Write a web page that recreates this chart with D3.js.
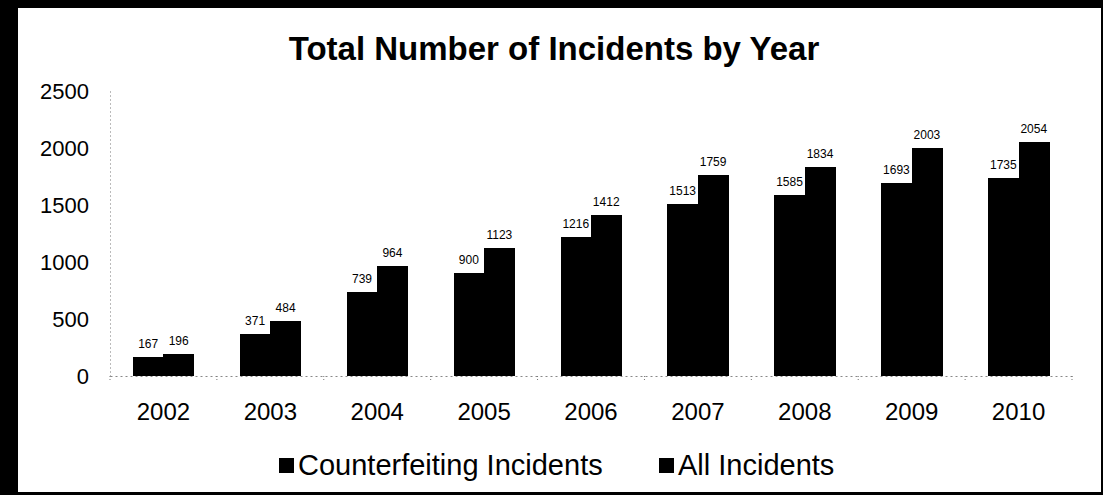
<!DOCTYPE html>
<html>
<head>
<meta charset="utf-8">
<script src="https://cdn.jsdelivr.net/npm/d3@7"></script>
<style>
  html, body { margin: 0; padding: 0; background: #fff; }
  svg { display: block; }
  svg text { font-family: "Liberation Sans", Arial, sans-serif; }
</style>
</head>
<body>
<svg id="chart" width="1103" height="495"></svg>
<script>
// chart data
const years = ["2002", "2003", "2004", "2005", "2006", "2007", "2008", "2009", "2010"];
const counterfeiting = [167, 371, 739, 900, 1216, 1513, 1585, 1693, 1735];
const allIncidents = [196, 484, 964, 1123, 1412, 1759, 1834, 2003, 2054];
const yTicks = [0, 500, 1000, 1500, 2000, 2500];
const seriesNames = ["Counterfeiting Incidents", "All Incidents"];

const svg = d3.select("#chart");
const W = 1103, H = 495;
const plot = { left: 110, right: 1072, top: 91, bottom: 376 };

// frame: heavy black left/top edge, thin right/bottom edge
svg.append("rect").attr("width", W).attr("height", H).attr("fill", "#000");
svg.append("rect")
  .attr("x", 18).attr("y", 8)
  .attr("width", 1101 - 18).attr("height", 492 - 8)
  .attr("fill", "#fff");

// title
svg.append("text")
  .attr("x", 554).attr("y", 60)
  .attr("text-anchor", "middle")
  .attr("font-size", "33px")
  .attr("font-weight", "bold")
  .attr("fill", "#000")
  .text("Total Number of Incidents by Year");

const x = d3.scaleBand()
  .domain(years)
  .range([plot.left, plot.right])
  .paddingInner(0.43)
  .paddingOuter(0.215);

const x1 = d3.scaleBand()
  .domain([0, 1])
  .range([0, x.bandwidth()]);

const y = d3.scaleLinear()
  .domain([0, 2500])
  .range([plot.bottom, plot.top]);

// y axis
const yAxis = svg.append("g")
  .attr("transform", `translate(${plot.left},0)`)
  .call(d3.axisLeft(y).tickValues(yTicks).tickFormat(d3.format("d")).tickSize(0).tickPadding(21))
  .attr("font-family", null);
yAxis.select(".domain")
  .attr("stroke", "#777")
  .attr("stroke-dasharray", "1,3");
yAxis.selectAll("text")
  .attr("font-size", "22px")
  .attr("fill", "#000");

// x axis
const xAxis = svg.append("g")
  .attr("transform", `translate(0,${plot.bottom})`)
  .call(d3.axisBottom(x).tickSize(0).tickPadding(27))
  .attr("font-family", null);
xAxis.select(".domain")
  .attr("stroke", "#888")
  .attr("stroke-dasharray", "2,3");
xAxis.selectAll("text")
  .attr("font-size", "24px")
  .attr("fill", "#000");

// small ticks at category boundaries
const step = x.step();
const bounds = d3.range(years.length + 1).map(i => plot.left + i * step);
svg.append("g").selectAll("line")
  .data(bounds)
  .join("line")
  .attr("x1", d => d).attr("x2", d => d)
  .attr("y1", plot.bottom).attr("y2", plot.bottom + 5)
  .attr("stroke", "#777")
  .attr("stroke-dasharray", "1,2");

// bars
const rows = years.map((yr, i) => ({ year: yr, values: [counterfeiting[i], allIncidents[i]] }));

const groups = svg.append("g").selectAll("g")
  .data(rows)
  .join("g")
  .attr("transform", d => `translate(${x(d.year)},0)`);

groups.selectAll("rect")
  .data(d => d.values.map((v, k) => ({ k, v })))
  .join("rect")
  .attr("x", d => x1(d.k))
  .attr("y", d => y(d.v))
  .attr("width", x1.bandwidth() + 0.5)
  .attr("height", d => y(0) - y(d.v))
  .attr("shape-rendering", "crispEdges")
  .attr("fill", "#000");

// value labels
groups.selectAll("text")
  .data(d => d.values.map((v, k) => ({ k, v })))
  .join("text")
  .attr("x", d => x1(d.k) + x1.bandwidth() / 2)
  .attr("y", d => y(d.v) - 9)
  .attr("text-anchor", "middle")
  .attr("font-size", "12px")
  .attr("fill", "#000")
  .text(d => d.v);

// legend
const legendItems = [
  { name: seriesNames[0], x: 279 },
  { name: seriesNames[1], x: 659 }
];
const legend = svg.append("g").selectAll("g")
  .data(legendItems)
  .join("g")
  .attr("transform", d => `translate(${d.x},458)`);

legend.append("rect")
  .attr("width", 15).attr("height", 15)
  .attr("fill", "#000");

legend.append("text")
  .attr("x", 19).attr("y", 17)
  .attr("font-size", "29px")
  .attr("fill", "#000")
  .text(d => d.name);
</script>
</body>
</html>
